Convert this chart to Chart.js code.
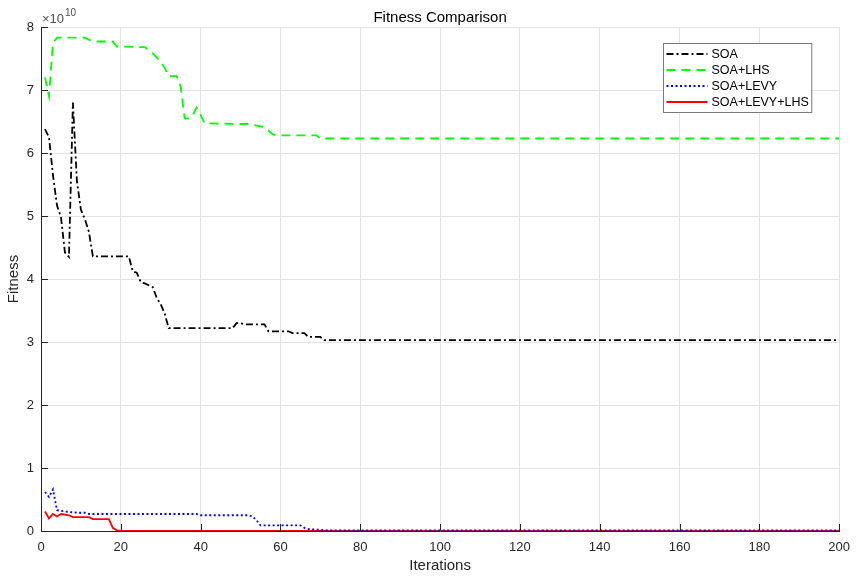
<!DOCTYPE html>
<html>
<head>
<meta charset="utf-8">
<script src="https://cdn.jsdelivr.net/npm/chart.js@4.4.1/dist/chart.umd.min.js"></script>
<style>
  html, body { margin: 0; padding: 0; background: #fff; }
  #wrap { width: 859px; height: 580px; position: relative; }
</style>
</head>
<body>
<div id="wrap"><canvas id="fit"></canvas></div>
<script>
// values are in units of 1e10 at the change points
const soaIter = [1, 2, 3, 4, 5, 6, 7, 8, 9, 10, 11, 12, 13, 22, 23, 24, 25, 26, 27, 28, 29, 30, 31, 32, 48, 49, 50, 51, 56, 57, 62, 63, 66, 67, 70, 71, 200];
const soaVal  = [6.38, 6.25, 5.65, 5.17, 4.98, 4.42, 4.35, 6.8, 5.55, 5.1, 4.95, 4.75, 4.36, 4.36, 4.12, 4.1, 3.95, 3.93, 3.9, 3.87, 3.7, 3.6, 3.45, 3.22, 3.22, 3.3, 3.3, 3.28, 3.28, 3.17, 3.17, 3.14, 3.14, 3.08, 3.08, 3.03, 3.03];

const lhsIter = [1, 2, 3, 4, 11, 12, 13, 18, 19, 26, 28, 30, 31, 32, 34, 35, 36, 37, 38, 39, 40, 41, 52, 56, 58, 59, 69, 70, 200];
const lhsVal  = [7.2, 6.9, 7.75, 7.83, 7.83, 7.8, 7.77, 7.77, 7.69, 7.68, 7.58, 7.45, 7.35, 7.22, 7.22, 7.05, 6.55, 6.55, 6.6, 6.72, 6.6, 6.47, 6.46, 6.41, 6.3, 6.28, 6.28, 6.23, 6.23];

const levyIter = [1, 2, 3, 4, 6, 9, 11, 12, 39, 40, 52, 53, 54, 55, 65, 66, 67, 70, 72, 200];
const levyVal  = [0.62, 0.54, 0.66, 0.33, 0.31, 0.29, 0.29, 0.27, 0.27, 0.25, 0.25, 0.23, 0.17, 0.09, 0.09, 0.05, 0.03, 0.02, 0.01, 0.01];

const bothIter = [1, 2, 3, 4, 5, 6, 7, 8, 12, 13, 17, 18, 19, 20, 200];
const bothVal  = [0.31, 0.2, 0.27, 0.23, 0.27, 0.26, 0.25, 0.22, 0.22, 0.19, 0.19, 0.05, 0.01, 0, 0];

const xTicks = [0, 20, 40, 60, 80, 100, 120, 140, 160, 180, 200];
const yTicks = [0, 1, 2, 3, 4, 5, 6, 7, 8];

const FONT = '"Liberation Sans", Arial, Helvetica, sans-serif';
const INK = '#262626';

function pts(xs, ys) {
  return xs.map((x, i) => ({ x: x, y: ys[i] }));
}

// MATLAB-style ticks pointing into the plot, plus the exponent label
const matlabAxes = {
  id: 'matlabAxes',
  afterDatasetsDraw(chart) {
    const { ctx, chartArea: a, scales: { x, y } } = chart;
    ctx.save();
    ctx.strokeStyle = INK;
    ctx.lineWidth = 1;
    ctx.beginPath();
    xTicks.forEach(v => {
      const px = Math.round(x.getPixelForValue(v)) + 0.5;
      ctx.moveTo(px, a.bottom);
      ctx.lineTo(px, a.bottom - 7);
    });
    yTicks.forEach(v => {
      const py = Math.round(y.getPixelForValue(v)) + 0.5;
      ctx.moveTo(a.left, py);
      ctx.lineTo(a.left + 7, py);
    });
    ctx.stroke();

    ctx.fillStyle = '#4d4d4d';
    ctx.textBaseline = 'alphabetic';
    ctx.textAlign = 'left';
    ctx.font = '13px ' + FONT;
    ctx.fillText('\u00d710', a.left + 1, a.top - 4);
    const w = ctx.measureText('\u00d710').width;
    ctx.font = '10px ' + FONT;
    ctx.fillText('10', a.left + 1 + w + 1, a.top - 11);
    ctx.restore();
  }
};

// legend box drawn inside the plot, top right
const insideLegend = {
  id: 'insideLegend',
  afterDraw(chart) {
    const { ctx, chartArea: a } = chart;
    const sets = chart.data.datasets;
    ctx.save();
    ctx.font = '12.5px ' + FONT;
    const textW = Math.max(...sets.map(d => ctx.measureText(d.label).width));
    const sample = 41, rowH = 16;
    const boxW = 3 + sample + 4 + textW + 3;
    const boxH = sets.length * rowH + 5;
    const bx = Math.round(a.right - 28 - boxW) + 0.5;
    const by = Math.round(a.top + 16) + 0.5;
    ctx.fillStyle = '#fff';
    ctx.fillRect(bx, by, boxW, boxH);
    ctx.strokeStyle = '#7a7a7a';
    ctx.lineWidth = 1;
    ctx.strokeRect(bx, by, boxW, boxH);
    sets.forEach((d, i) => {
      const cy = by + 10.5 + i * rowH;
      ctx.beginPath();
      ctx.setLineDash(d.borderDash || []);
      ctx.strokeStyle = d.borderColor;
      ctx.lineWidth = d.borderWidth;
      ctx.moveTo(bx + 3, cy);
      ctx.lineTo(bx + 3 + sample, cy);
      ctx.stroke();
      ctx.setLineDash([]);
      ctx.fillStyle = '#000';
      ctx.textBaseline = 'middle';
      ctx.fillText(d.label, bx + 3 + sample + 4, cy + 0.5);
    });
    ctx.restore();
  }
};

new Chart(document.getElementById('fit'), {
  type: 'line',
  data: {
    datasets: [
      { label: 'SOA', data: pts(soaIter, soaVal), borderColor: '#000000', borderWidth: 1.8, borderDash: [7, 3, 2, 3] },
      { label: 'SOA+LHS', data: pts(lhsIter, lhsVal), borderColor: '#00ff00', borderWidth: 1.8, borderDash: [9, 6] },
      { label: 'SOA+LEVY', data: pts(levyIter, levyVal), borderColor: '#0000ff', borderWidth: 1.8, borderDash: [2, 2.5] },
      { label: 'SOA+LEVY+LHS', data: pts(bothIter, bothVal), borderColor: '#ff0000', borderWidth: 1.8 }
    ]
  },
  options: {
    responsive: true,
    maintainAspectRatio: false,
    animation: false,
    layout: { padding: { left: 0, right: 18, top: 0, bottom: 0 } },
    elements: { point: { radius: 0 }, line: { tension: 0 } },
    plugins: {
      legend: { display: false },
      tooltip: { enabled: false },
      title: {
        display: true,
        fullSize: false,
        text: 'Fitness Comparison',
        color: '#000',
        font: { family: FONT, size: 15, weight: 'normal', lineHeight: 1.2 },
        padding: { top: 8.5, bottom: 0.5 }
      }
    },
    scales: {
      x: {
        type: 'linear',
        min: 0,
        max: 200,
        afterBuildTicks: s => { s.ticks = xTicks.map(v => ({ value: v })); },
        afterFit: s => { s.height = 49; },
        grid: { color: '#e3e3e3', drawTicks: false },
        border: { color: INK, width: 1 },
        ticks: { color: INK, padding: 9, maxRotation: 0, font: { family: FONT, size: 13 } },
        title: { display: true, text: 'Iterations', color: INK, padding: { top: 0, bottom: 5 }, font: { family: FONT, size: 15 } }
      },
      y: {
        min: 0,
        max: 8,
        afterBuildTicks: s => { s.ticks = yTicks.map(v => ({ value: v })); },
        afterFit: s => { s.width = 41; },
        grid: { color: '#e3e3e3', drawTicks: false },
        border: { color: INK, width: 1 },
        ticks: { color: INK, padding: 7, font: { family: FONT, size: 13 } },
        title: { display: true, text: 'Fitness', color: INK, padding: { top: 5, bottom: 0 }, font: { family: FONT, size: 15 } }
      }
    }
  },
  plugins: [matlabAxes, insideLegend]
});
</script>
</body>
</html>
